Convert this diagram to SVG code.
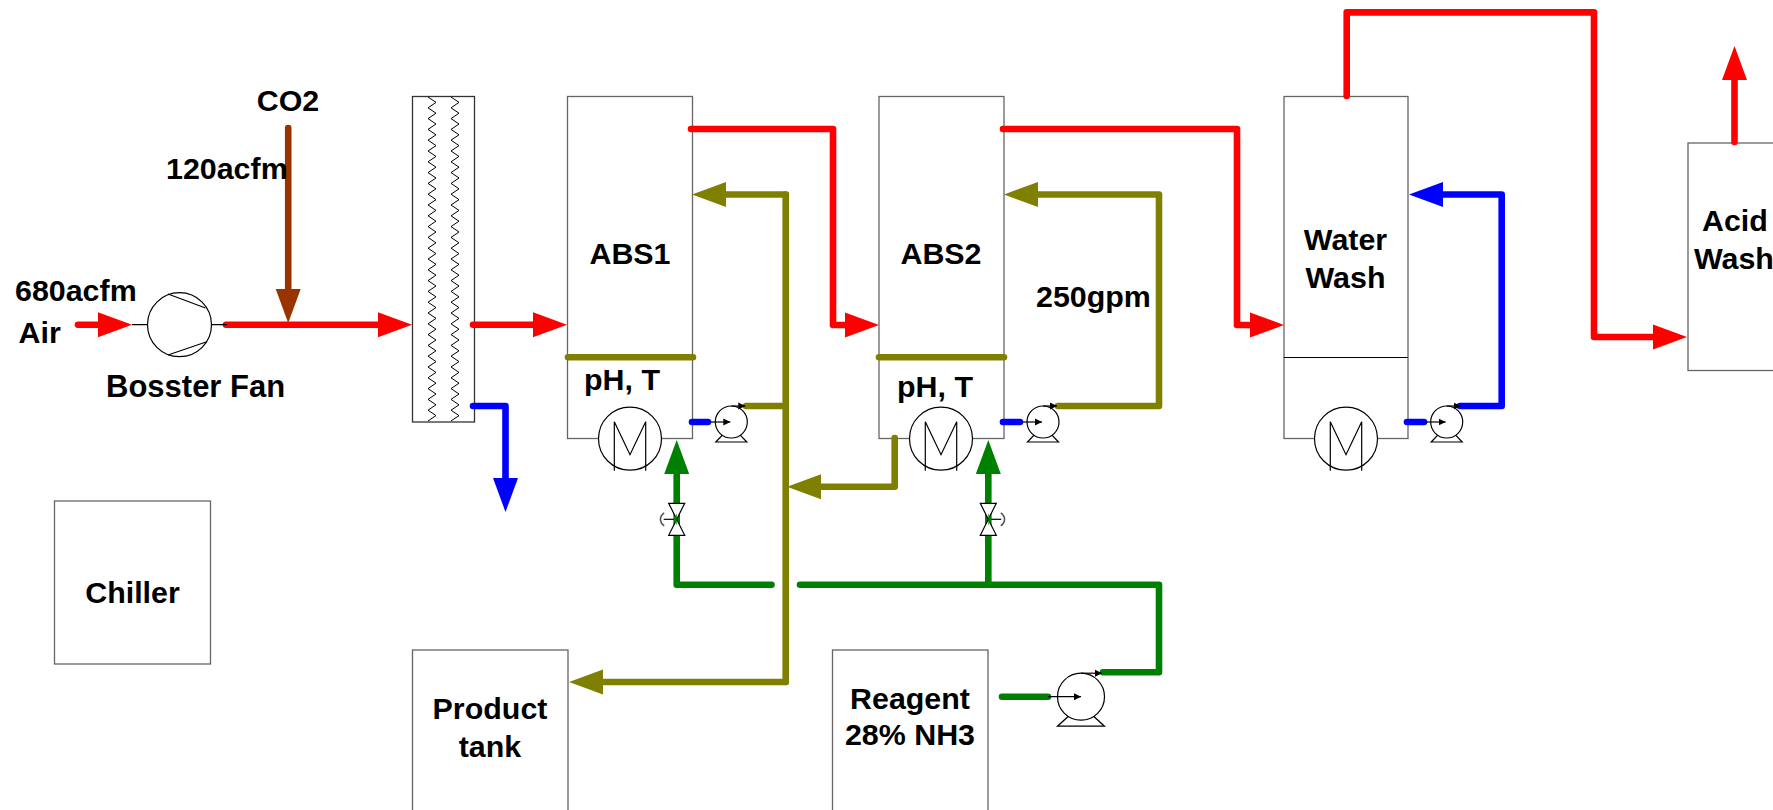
<svg xmlns="http://www.w3.org/2000/svg" xmlns:xlink="http://www.w3.org/1999/xlink" width="1773" height="810" viewBox="0 0 1773 810">
<style>
.box{fill:#fff;stroke:#666;stroke-width:1.3}
.sym{fill:none;stroke:#000;stroke-width:1.2}
.white{fill:#fff;stroke:#000;stroke-width:1.2}
.pipe{fill:none;stroke-width:6.6;stroke-linecap:round;stroke-linejoin:round}
.red{stroke:#f00}.blue{stroke:#00f}.olive{stroke:#808000}.green{stroke:#008000}.brown{stroke:#930}
text{font-family:"Liberation Sans",Arial,sans-serif;font-weight:700;font-size:30.4px;fill:#000}
.m{text-anchor:middle}
</style>
<defs>
<marker id="ar" markerUnits="userSpaceOnUse" markerWidth="34" markerHeight="26" refX="0" refY="13" orient="auto"><path d="M0,0.5L34,13L0,25.5z" fill="#f00"/></marker>
<marker id="ab" markerUnits="userSpaceOnUse" markerWidth="34" markerHeight="26" refX="0" refY="13" orient="auto"><path d="M0,0.5L34,13L0,25.5z" fill="#00f"/></marker>
<marker id="ao" markerUnits="userSpaceOnUse" markerWidth="34" markerHeight="26" refX="0" refY="13" orient="auto"><path d="M0,0.5L34,13L0,25.5z" fill="#808000"/></marker>
<marker id="ag" markerUnits="userSpaceOnUse" markerWidth="34" markerHeight="26" refX="0" refY="13" orient="auto"><path d="M0,0.5L34,13L0,25.5z" fill="#008000"/></marker>
<marker id="an" markerUnits="userSpaceOnUse" markerWidth="34" markerHeight="26" refX="0" refY="13" orient="auto"><path d="M0,0.5L34,13L0,25.5z" fill="#930"/></marker>
<marker id="sm" markerUnits="userSpaceOnUse" markerWidth="8" markerHeight="8" refX="7" refY="4" orient="auto"><path d="M0,0.5L7,4L0,7.5z" fill="#000"/></marker>
<path id="zig" class="sym" style="stroke-width:1" d="M0,0l8,5.4-8,5.4 8,5.4-8,5.4 8,5.4-8,5.4 8,5.4-8,5.4 8,5.4-8,5.4 8,5.4-8,5.4 8,5.4-8,5.4 8,5.4-8,5.4 8,5.4-8,5.4 8,5.4-8,5.4 8,5.4-8,5.4 8,5.4-8,5.4 8,5.4-8,5.4 8,5.4-8,5.4 8,5.4-8,5.4 8,5.4-8,5.4 8,5.4-8,5.4 8,5.4-8,5.4 8,5.4-8,5.4 8,5.4-8,5.4 8,5.4-8,5.4 8,5.4-8,5.4 8,5.4-8,5.4 8,5.4-8,5.4 8,5.4-8,5.4 8,5.4-8,5.4 8,5.4-8,5.4 8,5.4-8,5.4 8,5.4-8,5.4 8,5.4-8,5.4"/>
<g id="motorSym">
<circle r="31.5" cx="0" cy="0" class="white"/>
<path class="sym" d="M-15.7,32V-17L0,16L15.7,-17V32"/>
</g>
<g id="pumpSym">
<path class="white" d="M-15.5,20H15.5L8,12H-8Z"/>
<circle r="16" class="white"/>
<path class="sym" d="M-21,0H-1" marker-end="url(#sm)"/>
<path class="sym" d="M0,-16H14" marker-end="url(#sm)"/>
</g>
<g id="valveSym">
<path class="white" d="M-8,-16H8L-8,16H8Z"/>
</g>
</defs>

<g id="chiller"><rect class="box" x="54.5" y="501" width="156" height="163"/><text class="m" x="132.5" y="603">Chiller</text></g>

<g id="scrubber-precooler">
<rect class="box" style="stroke:#333" x="412.5" y="96.5" width="62" height="325.5"/>
<use xlink:href="#zig" x="428" y="97"/>
<use xlink:href="#zig" x="451" y="97"/>
</g>

<g id="abs1"><rect class="box" x="567.5" y="96.5" width="125" height="342"/><text class="m" x="630" y="264">ABS1</text><text x="584" y="390">pH, T</text></g>
<g id="abs2"><rect class="box" x="879" y="96.5" width="125" height="342"/><text class="m" x="941" y="264">ABS2</text><text x="897" y="397">pH, T</text></g>
<g id="water-wash"><rect class="box" x="1284" y="96.5" width="124" height="342"/><path d="M1284,357.5H1408" stroke="#000" stroke-width="1"/><text class="m" x="1345.5" y="250">Water</text><text class="m" x="1345.5" y="288">Wash</text></g>
<g id="acid-wash"><rect class="box" x="1688" y="143" width="120" height="227.5"/><text x="1702" y="231">Acid</text><text x="1694" y="269">Wash</text></g>
<g id="product-tank"><rect class="box" x="412.5" y="650" width="155.5" height="200"/><text class="m" x="490" y="719">Product</text><text class="m" x="490" y="757">tank</text></g>
<g id="reagent"><rect class="box" x="832.5" y="650" width="155.5" height="200"/><text class="m" x="910" y="709">Reagent</text><text class="m" x="910" y="745">28% NH3</text></g>

<g id="connectors">
<path class="pipe olive" d="M785.7,194.5V682"/>
<path class="pipe olive" d="M785.7,194.5H726" marker-end="url(#ao)"/>
<path class="pipe olive" d="M785.7,682H603" marker-end="url(#ao)"/>
<path class="pipe olive" d="M746,406H785.7"/>
<path class="pipe olive" d="M894.7,438V486.7H821" marker-end="url(#ao)"/>
<path class="pipe olive" d="M1058,406H1159V194.5H1038" marker-end="url(#ao)"/>
<path class="pipe olive" d="M568,357.3H693"/>
<path class="pipe olive" d="M879,357.3H1004"/>
<path class="pipe red" d="M78,324.7H98" marker-end="url(#ar)"/>
<path class="pipe red" d="M226,324.7H378" marker-end="url(#ar)"/>
<path class="pipe brown" d="M288.2,128V289" marker-end="url(#an)"/>
<path class="pipe red" d="M473,324.7H533" marker-end="url(#ar)"/>
<path class="pipe blue" d="M473,406H505.5V478" marker-end="url(#ab)"/>
<path class="pipe red" d="M691,129H833V325H845" marker-end="url(#ar)"/>
<path class="pipe red" d="M1003,129H1237V325H1250" marker-end="url(#ar)"/>
<path class="pipe red" d="M1346.7,96V12.4H1594V337H1653" marker-end="url(#ar)"/>
<path class="pipe red" d="M1734.5,142V80" marker-end="url(#ar)"/>
<path class="pipe blue" d="M1460,406H1501.7V194.5H1443" marker-end="url(#ab)"/>
<path class="pipe blue" d="M692,422H708"/>
<path class="pipe blue" d="M1003,422H1020"/>
<path class="pipe blue" d="M1407,422H1424"/>
<path class="pipe green" d="M771.5,584.7H676.7V474" marker-end="url(#ag)"/>
<path class="pipe green" d="M800,584.7H1159V672.3H1103"/>
<path class="pipe green" d="M988.3,584.7V474" marker-end="url(#ag)"/>
<path class="pipe green" d="M1002,696.7H1048"/>
</g>

<g id="booster-fan">
<path class="sym" d="M132,324.7H148M211,324.7H227"/>
<circle class="sym" cx="179.5" cy="324.7" r="32"/>
<path class="sym" d="M168,294L205.5,308M168,355L206,342"/>
<text x="106" y="397" style="font-size:31px">Bosster Fan</text>
</g>
<g id="motor1"><use xlink:href="#motorSym" x="630" y="438.7"/></g>
<g id="motor2"><use xlink:href="#motorSym" x="941" y="438.7"/></g>
<g id="motor3"><use xlink:href="#motorSym" x="1346" y="438.7"/></g>
<g id="pump1"><use xlink:href="#pumpSym" x="731.3" y="422"/></g>
<g id="pump2"><use xlink:href="#pumpSym" x="1043" y="422"/></g>
<g id="pump3"><use xlink:href="#pumpSym" x="1446.7" y="422"/></g>
<g id="pump4" transform="translate(1081,696.7)">
<path class="white" d="M-23.5,29.5H23.5L12,19H-12Z"/>
<circle r="23.5" class="white"/>
<path class="sym" d="M-33,0H0" marker-end="url(#sm)"/>
<path class="sym" d="M0,-23.5H21" marker-end="url(#sm)"/>
</g>
<g id="valve1" transform="translate(676.7,519.3)"><use xlink:href="#valveSym"/><path class="sym" d="M0,0H-13"/><path d="M-12.5,-6.5C-17.5,-3,-17.5,3,-12.5,6.5" fill="none" stroke="#555" stroke-width="1.6"/><path d="M-3,0L0,-6V6Z" fill="#008000"/></g>
<g id="valve2" transform="translate(988.3,519.3)"><use xlink:href="#valveSym"/><path class="sym" d="M0,0H13"/><path d="M12.5,-6.5C17.5,-3,17.5,3,12.5,6.5" fill="none" stroke="#555" stroke-width="1.6"/><path d="M3,0L0,-6V6Z" fill="#008000"/></g>

<g id="labels">
<text class="m" x="288" y="111">CO2</text>
<text x="166" y="179">120acfm</text>
<text x="15" y="301">680acfm</text>
<text x="18.5" y="343">Air</text>
<text x="1036" y="306.5">250gpm</text>
</g>
</svg>
